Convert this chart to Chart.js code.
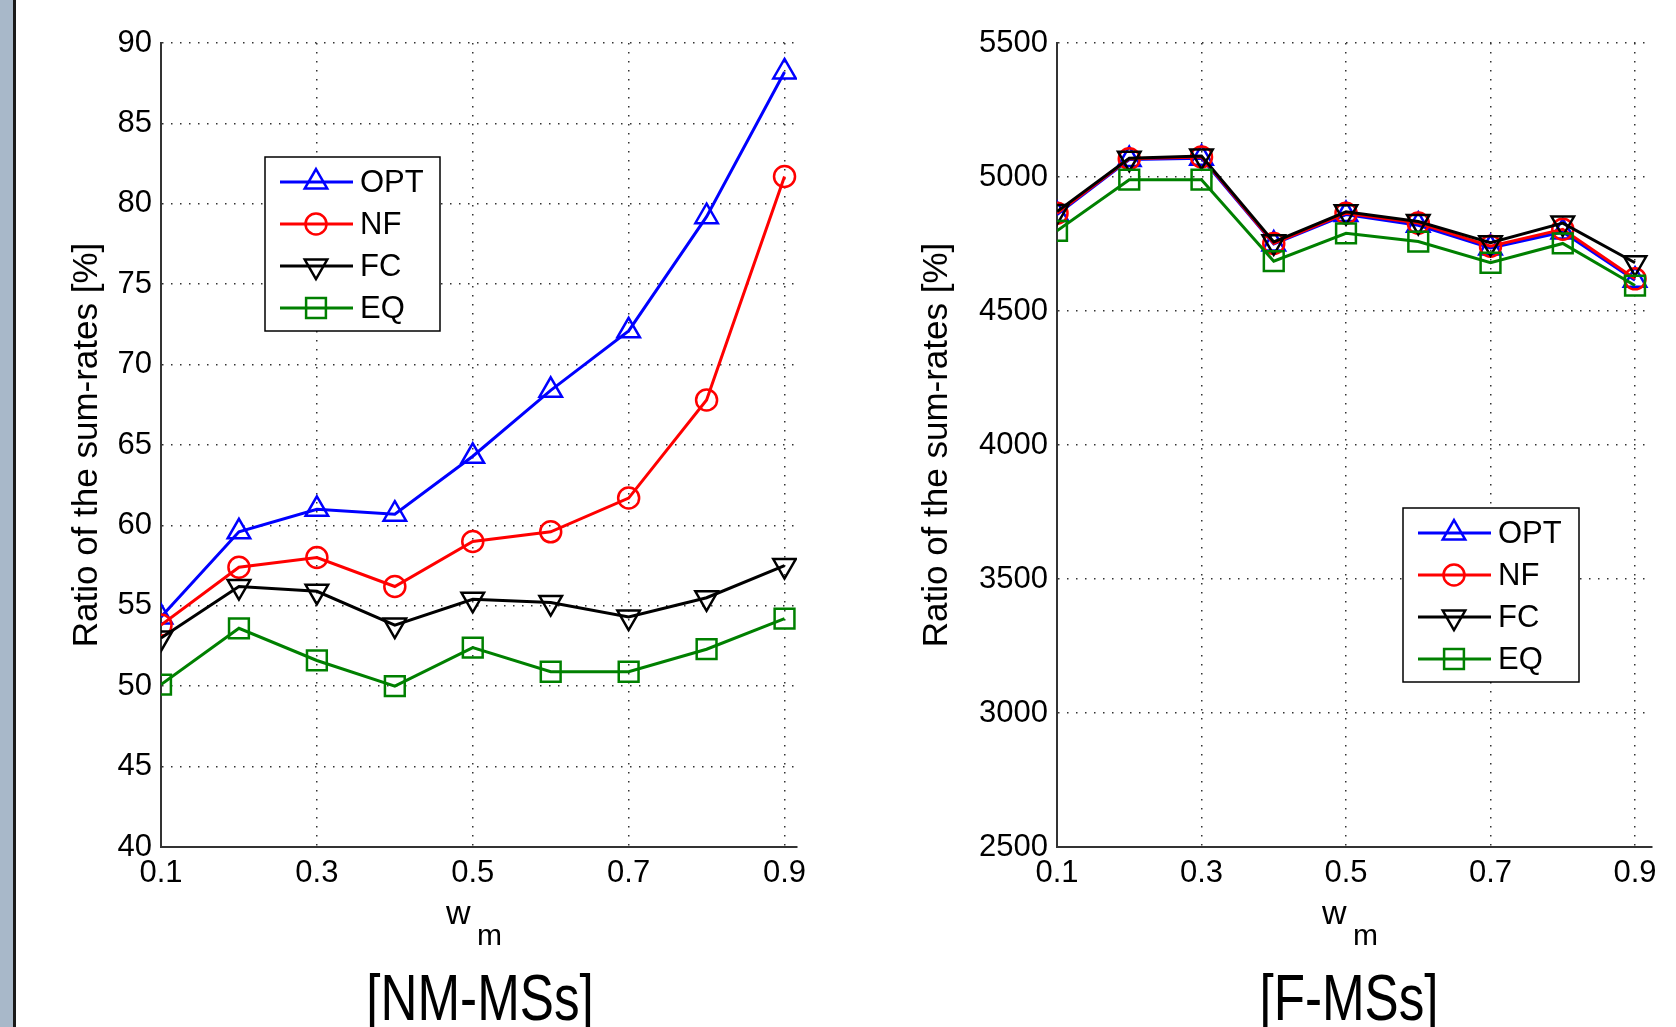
<!DOCTYPE html>
<html>
<head>
<meta charset="utf-8">
<script src="https://cdn.jsdelivr.net/npm/chart.js@4.4.1/dist/chart.umd.min.js"></script>
<style>
	html, body { margin: 0; padding: 0; background: #fff; }
	#page { position: relative; width: 1676px; height: 1027px; overflow: hidden; background: #fff; font-family: 'Liberation Sans', Arial, sans-serif; }
	#bar { position: absolute; left: 0; top: 0; width: 13px; height: 1027px; background: #a8b8c9; border-right: 3px solid #1a1a1a; }
	canvas { position: absolute; top: 0; }
	.lbl { position: absolute; color: #000; line-height: 1; white-space: nowrap; }
	.panel { font-size: 64px; transform: translateX(-50%) scaleX(0.8); }
</style>
</head>
<body>
<div id="page">
	<div id="bar"></div>
	<canvas id="sx" width="838" height="1027" style="left:0"></canvas>
	<canvas id="dx" width="838" height="1027" style="left:838px"></canvas>
	<div class="lbl" style="left:446px;top:895px;font-size:34px">w</div>
	<div class="lbl" style="left:477px;top:920px;font-size:30px">m</div>
	<div class="lbl" style="left:1322px;top:895px;font-size:34px">w</div>
	<div class="lbl" style="left:1353px;top:920px;font-size:30px">m</div>
	<div class="lbl panel" style="left:480px;top:966px">[NM-MSs]</div>
	<div class="lbl panel" style="left:1349px;top:966px">[F-MSs]</div>
</div>
<script>
// valori
const wm = [0.1, 0.2, 0.3, 0.4, 0.5, 0.6, 0.7, 0.8, 0.9];
const xTicks = [0.1, 0.3, 0.5, 0.7, 0.9];
const serie = ['OPT', 'NF', 'FC', 'EQ'];

// [NM-MSs]
const nmOPT = [54.3, 59.6, 61.0, 60.7, 64.3, 68.4, 72.1, 79.2, 88.2];
const nmNF  = [53.8, 57.4, 58.0, 56.2, 59.0, 59.6, 61.7, 67.8, 81.7];
const nmFC  = [53.0, 56.2, 55.9, 53.8, 55.4, 55.2, 54.3, 55.5, 57.5];
const nmEQ  = [50.1, 53.6, 51.6, 50.0, 52.4, 50.9, 50.9, 52.3, 54.2];

// [F-MSs]
const fOPT = [4860, 5065, 5070, 4750, 4860, 4820, 4735, 4795, 4615];
const fNF  = [4865, 5068, 5075, 4752, 4865, 4828, 4742, 4805, 4620];
const fFC  = [4871, 5070, 5078, 4758, 4870, 4834, 4755, 4828, 4680];
const fEQ  = [4799, 4990, 4990, 4686, 4790, 4759, 4680, 4752, 4595];

const FONT = "'Liberation Sans', Arial, sans-serif";

// stile matlab per ogni serie
const stili = [
	{ color: '#0000ff', pointStyle: 'triangle', radius: 13, rotation: 0, order: 4 },
	{ color: '#ff0000', pointStyle: 'circle', radius: 10.5, rotation: 0, order: 3 },
	{ color: '#000000', pointStyle: 'triangle', radius: 13, rotation: 180, order: 2 },
	{ color: '#008000', pointStyle: 'rect', radius: 14, rotation: 0, order: 1 }
];

// legenda con riquadro dentro l'area del grafico
const boxLegend = {
	id: 'boxLegend',
	afterDatasetsDraw(chart, args, o) {
		const ctx = chart.ctx;
		ctx.save();
		ctx.fillStyle = '#fff';
		ctx.fillRect(o.x, o.y, o.w, o.h);
		ctx.strokeStyle = '#000';
		ctx.lineWidth = 1.5;
		ctx.strokeRect(o.x, o.y, o.w, o.h);
		chart.data.datasets.forEach(function(ds, i){
			const y = o.y + 25 + i * 42;
			ctx.strokeStyle = ds.borderColor;
			ctx.lineWidth = ds.borderWidth;
			ctx.beginPath();
			ctx.moveTo(o.x + 15, y);
			ctx.lineTo(o.x + 88, y);
			ctx.stroke();
			ctx.fillStyle = 'rgba(0,0,0,0)';
			ctx.lineWidth = ds.pointBorderWidth;
			Chart.helpers.drawPoint(ctx, {
				pointStyle: ds.pointStyle,
				radius: ds.pointRadius,
				rotation: ds.pointRotation,
				borderWidth: ds.pointBorderWidth
			}, o.x + 51, y);
			ctx.fillStyle = '#000';
			ctx.font = '31px ' + FONT;
			ctx.textBaseline = 'middle';
			ctx.textAlign = 'left';
			ctx.fillText(ds.label, o.x + 95, y + 1);
		});
		ctx.restore();
	}
};

function creaGrafico(id, valori, cfg){
	const ctx = document.getElementById(id).getContext('2d');
	const datasets = valori.map(function(v, i){
		const s = stili[i];
		return {
			label: serie[i],
			data: wm.map(function(x, j){ return { x: x, y: v[j] }; }),
			borderColor: s.color,
			backgroundColor: 'rgba(0,0,0,0)',
			borderWidth: 3,
			pointStyle: s.pointStyle,
			pointRadius: s.radius,
			pointRotation: s.rotation,
			pointBorderColor: s.color,
			pointBackgroundColor: 'rgba(0,0,0,0)',
			pointBorderWidth: 2.5,
			tension: 0,
			order: s.order
		};
	});
	const griglia = { color: '#333', lineWidth: 1.5, drawTicks: false };
	const bordo = { color: '#333', width: 2, dash: [1.5, 7.5] };
	return new Chart(ctx, {
		type: 'line',
		data: { datasets: datasets },
		plugins: [boxLegend],
		options: {
			responsive: false,
			animation: false,
			layout: { padding: { left: 0, top: 43, right: cfg.padRight, bottom: 120 } },
			scales: {
				x: {
					type: 'linear',
					min: 0.1,
					max: cfg.xMax,
					grid: griglia,
					border: bordo,
					afterBuildTicks: function(scale){ scale.ticks = xTicks.map(function(v){ return { value: v }; }); },
					afterFit: function(scale){ scale.height = 60; },
					ticks: {
						color: '#000',
						padding: 8,
						maxRotation: 0,
						autoSkip: false,
						font: { family: FONT, size: 31 },
						callback: function(v){ return v.toFixed(1); }
					}
				},
				y: {
					min: cfg.yMin,
					max: cfg.yMax,
					grid: griglia,
					border: bordo,
					afterFit: function(scale){ scale.width = cfg.yWidth; },
					ticks: {
						color: '#000',
						padding: 9,
						stepSize: cfg.yStep,
						font: { family: FONT, size: 31 },
						callback: function(v){ return String(v); }
					},
					title: {
						display: true,
						text: 'Ratio of the sum-rates [%]',
						color: '#000',
						font: { family: FONT, size: 35 },
						padding: { top: cfg.titlePad, bottom: 0 }
					}
				}
			},
			plugins: {
				legend: { display: false },
				tooltip: { enabled: false },
				boxLegend: cfg.legenda
			}
		}
	});
}

function start(){
	creaGrafico('sx', [nmOPT, nmNF, nmFC, nmEQ], {
		yMin: 40, yMax: 90, yStep: 5, xMax: 0.916,
		yWidth: 161, padRight: 41, titlePad: 66,
		legenda: { x: 265, y: 157, w: 175, h: 174 }
	});
	creaGrafico('dx', [fOPT, fNF, fFC, fEQ], {
		yMin: 2500, yMax: 5500, yStep: 500, xMax: 0.9235,
		yWidth: 219, padRight: 24, titlePad: 78,
		legenda: { x: 565, y: 508, w: 176, h: 174 }
	});
}

if(document.readyState === 'loading') document.addEventListener('DOMContentLoaded', start);
else start();
</script>
</body>
</html>
